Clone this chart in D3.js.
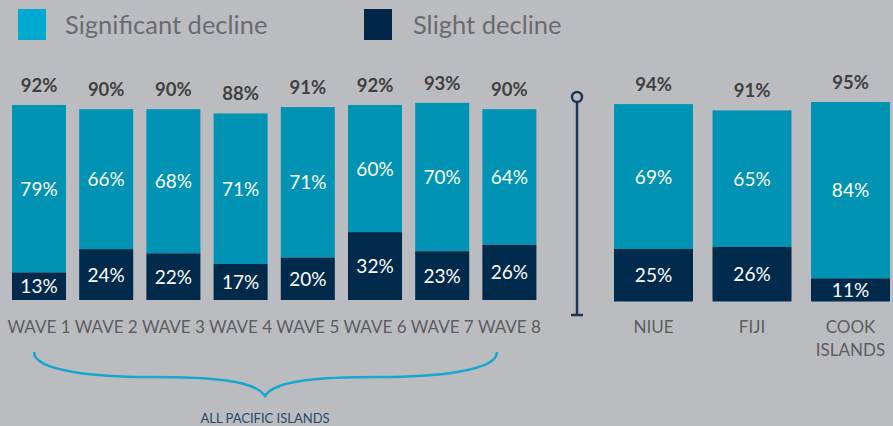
<!DOCTYPE html>
<html>
<head>
<meta charset="utf-8">
<script src="https://cdn.jsdelivr.net/npm/d3@7"></script>
<style>
  html, body { margin: 0; padding: 0; background: #bbbcc0; }
  svg { display: block; }
</style>
</head>
<body>
<svg id="chart" width="893" height="426"></svg>
<script>
// ---- Data ----
const waveCategories = ["WAVE 1", "WAVE 2", "WAVE 3", "WAVE 4", "WAVE 5", "WAVE 6", "WAVE 7", "WAVE 8"];
const waveSignificant = [79, 66, 68, 71, 71, 60, 70, 64];
const waveSlight = [13, 24, 22, 17, 20, 32, 23, 26];
const waveTotals = [92, 90, 90, 88, 91, 92, 93, 90];

const islandCategories = ["NIUE", "FIJI", "COOK ISLANDS"];
const islandSignificant = [69, 65, 84];
const islandSlight = [25, 26, 11];
const islandTotals = [94, 91, 95];

const seriesNames = ["Significant decline", "Slight decline"];
const groupLabel = "ALL PACIFIC ISLANDS";

// ---- Styles ----
const colSig = "#0093b3";
const colSlight = "#002a4c";
const colLegendSig = "#00a9cf";
const colLegendSlight = "#00264a";
const numFont = "Lato, 'Open Sans', sans-serif";

const svg = d3.select("#chart");

// ---- Legend ----
const legend = svg.append("g");
const legendX = [18, 364];
const legendTextX = [65, 413];
[colLegendSig, colLegendSlight].forEach((c, i) => {
  legend.append("rect").attr("x", legendX[i]).attr("y", 9).attr("width", 28).attr("height", 31).attr("fill", c);
  legend.append("text").attr("x", legendTextX[i]).attr("y", 34)
    .attr("font-family", numFont).attr("font-size", 25.5).attr("fill", "#6a6b70")
    .text(seriesNames[i]);
});

// ---- Group drawing ----
function drawGroup(cats, sig, slight, totals, xRange, baseline, pxPer100, padding) {
  const x = d3.scaleBand().domain(cats).range(xRange).paddingInner(padding).paddingOuter(padding / 2);
  const y = d3.scaleLinear().domain([0, 100]).range([baseline, baseline - pxPer100]);
  const g = svg.append("g");
  cats.forEach((c, i) => {
    const x0 = x(c), w = x.bandwidth(), cx = x0 + w / 2;
    const ySlightTop = y(slight[i]);
    const yTop = y(slight[i] + sig[i]);
    g.append("rect").attr("x", x0).attr("y", yTop).attr("width", w).attr("height", ySlightTop - yTop).attr("fill", colSig);
    g.append("rect").attr("x", x0).attr("y", ySlightTop).attr("width", w).attr("height", baseline - ySlightTop).attr("fill", colSlight);
    // inner labels
    g.append("text").attr("x", cx).attr("y", (yTop + ySlightTop) / 2 + 7)
      .attr("text-anchor", "middle").attr("font-family", numFont).attr("font-size", 19).attr("fill", "#ffffff")
      .text(sig[i] + "%");
    g.append("text").attr("x", cx).attr("y", (ySlightTop + baseline) / 2 + 7)
      .attr("text-anchor", "middle").attr("font-family", numFont).attr("font-size", 19).attr("fill", "#ffffff")
      .text(slight[i] + "%");
    // totals
    g.append("text").attr("x", cx).attr("y", y(totals[i]) - 13)
      .attr("text-anchor", "middle").attr("font-family", numFont).attr("font-weight", "bold").attr("font-size", 18.5).attr("fill", "#404040")
      .text(totals[i] + "%");
    // category labels
    const words = c === "COOK ISLANDS" ? ["COOK", "ISLANDS"] : [c];
    words.forEach((wd, j) => {
      g.append("text").attr("x", cx).attr("y", 333 + j * 23)
        .attr("text-anchor", "middle").attr("font-family", numFont).attr("font-size", 17).attr("fill", "#5c5d61")
        .text(wd);
    });
  });
  return x;
}

drawGroup(waveCategories, waveSignificant, waveSlight, waveTotals, [5.4, 543], 300, 212, 0.196);
drawGroup(islandCategories, islandSignificant, islandSlight, islandTotals, [604.25, 899.75], 301.5, 210, 0.198);

// ---- Divider ----
const div = svg.append("g").attr("stroke", "#1d3658").attr("stroke-width", 2.5).attr("fill", "none");
div.append("line").attr("x1", 577).attr("x2", 577).attr("y1", 102).attr("y2", 315);
div.append("line").attr("x1", 571).attr("x2", 583).attr("y1", 315).attr("y2", 315);
div.append("circle").attr("cx", 577).attr("cy", 97).attr("r", 5).attr("fill", "#bbbcc0");

// ---- Brace ----
svg.append("path")
  .attr("d", "M34,352 C34,372 100,377 150,377 C210,377 255,380 265,396 C275,380 320,377 380,377 C430,377 497,372 497,352")
  .attr("fill", "none").attr("stroke", "#14a8cf").attr("stroke-width", 2.5);
svg.append("text").attr("x", 265).attr("y", 423).attr("text-anchor", "middle")
  .attr("font-family", numFont).attr("font-size", 13).attr("fill", "#26496c")
  .text(groupLabel);
</script>
</body>
</html>
